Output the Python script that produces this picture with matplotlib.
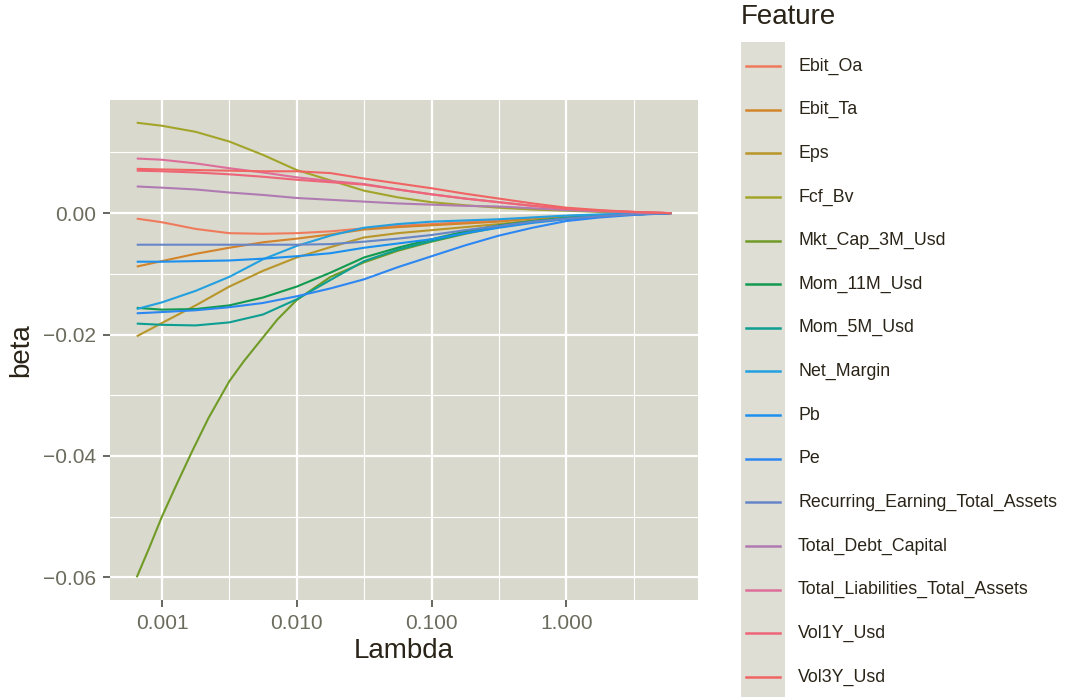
import matplotlib
matplotlib.use("Agg")
import matplotlib.pyplot as plt
from matplotlib.lines import Line2D
from matplotlib.patches import Rectangle
from matplotlib.ticker import FixedLocator, FuncFormatter

plt.rcParams['font.family'] = ['Liberation Sans', 'DejaVu Sans']

# lambda grid
lambdas = [0.00065, 0.001, 0.00178, 0.00316, 0.00562, 0.01, 0.0178, 0.0316,
           0.0562, 0.1, 0.178, 0.316, 0.562, 1.0, 1.78, 3.16, 6.0]
# denser grid for the steep Mkt_Cap path
mkt_lambdas = [0.00065, 0.00081, 0.001, 0.00126, 0.00167, 0.00221, 0.00316, 0.00405,
               0.0052, 0.0072, 0.01, 0.0178, 0.0316, 0.0562, 0.1, 0.178, 0.316,
               0.562, 1.0, 1.78, 3.16, 6.0]

features = ['Ebit_Oa', 'Ebit_Ta', 'Eps', 'Fcf_Bv', 'Mkt_Cap_3M_Usd', 'Mom_11M_Usd',
            'Mom_5M_Usd', 'Net_Margin', 'Pb', 'Pe', 'Recurring_Earning_Total_Assets',
            'Total_Debt_Capital', 'Total_Liabilities_Total_Assets', 'Vol1Y_Usd', 'Vol3Y_Usd']

colors = ['#F07B5C', '#D3842A', '#B8962A', '#A3A52A', '#6F9B26', '#119A50',
          '#0E9E92', '#22A0E0', '#1C90EE', '#2C87F2', '#6786C8',
          '#B07BB2', '#DD6E9A', '#EE6578', '#F06464']

ebit_oa = [-0.0009, -0.0015, -0.0026, -0.0033, -0.0034, -0.0033, -0.0030, -0.0025, -0.0021,
           -0.0018, -0.0015, -0.0012, -0.0008, -0.0005, -0.0003, -0.0001, 0.0]
ebit_ta = [-0.0088, -0.0079, -0.0067, -0.0057, -0.0048, -0.0042, -0.0035, -0.0027, -0.0023,
           -0.0020, -0.0017, -0.0014, -0.0009, -0.0006, -0.0003, -0.0001, 0.0]
eps = [-0.0203, -0.0181, -0.0152, -0.0121, -0.0095, -0.0073, -0.0056, -0.0040, -0.0033,
       -0.0028, -0.0023, -0.0018, -0.0012, -0.0007, -0.0004, -0.0002, 0.0]
fcf_bv = [0.0149, 0.0144, 0.0134, 0.0118, 0.0096, 0.0071, 0.0054, 0.0037, 0.0026,
          0.0018, 0.0013, 0.0009, 0.0006, 0.0004, 0.0002, 0.0001, 0.0]
mkt_cap = [-0.0600, -0.0550, -0.0500, -0.0451, -0.0393, -0.0338, -0.0277, -0.0244,
           -0.0214, -0.0175, -0.0143, -0.0105, -0.0081, -0.0062, -0.0047, -0.0034,
           -0.0023, -0.0015, -0.0009, -0.0005, -0.0002, 0.0]
mom_11m = [-0.0156, -0.0159, -0.0158, -0.0152, -0.0139, -0.0121, -0.0098, -0.0073, -0.0057,
           -0.0043, -0.0030, -0.0020, -0.0013, -0.0008, -0.0004, -0.0002, 0.0]
mom_5m = [-0.0182, -0.0184, -0.0185, -0.0180, -0.0167, -0.0142, -0.0110, -0.0079, -0.0060,
          -0.0046, -0.0033, -0.0022, -0.0014, -0.0008, -0.0004, -0.0002, 0.0]
net_margin = [-0.0158, -0.0147, -0.0128, -0.0105, -0.0076, -0.0054, -0.0037, -0.0024, -0.0018,
              -0.0014, -0.0012, -0.0010, -0.0007, -0.0004, -0.0002, -0.0001, 0.0]
pb = [-0.0080, -0.0080, -0.0079, -0.0078, -0.0075, -0.0071, -0.0066, -0.0057, -0.0050,
      -0.0043, -0.0033, -0.0024, -0.0016, -0.0010, -0.0005, -0.0002, 0.0]
pe = [-0.0165, -0.0163, -0.0160, -0.0155, -0.0148, -0.0137, -0.0124, -0.0109, -0.0089,
      -0.0071, -0.0053, -0.0037, -0.0024, -0.0013, -0.0007, -0.0003, 0.0]
recurring = [-0.0052, -0.0052, -0.0052, -0.0052, -0.0052, -0.0052, -0.0051, -0.0047, -0.0042,
             -0.0036, -0.0028, -0.0021, -0.0014, -0.0009, -0.0005, -0.0002, 0.0]
total_debt = [0.0044, 0.0042, 0.0039, 0.0034, 0.0030, 0.0025, 0.0022, 0.0019, 0.0016,
              0.0014, 0.0012, 0.0011, 0.0008, 0.0005, 0.0003, 0.0001, 0.0]
total_liab = [0.0090, 0.0088, 0.0082, 0.0074, 0.0067, 0.0059, 0.0053, 0.0048, 0.0039,
              0.0031, 0.0024, 0.0018, 0.0012, 0.0007, 0.0004, 0.0002, 0.0]
vol1y = [0.0070, 0.0069, 0.0067, 0.0064, 0.0060, 0.0055, 0.0051, 0.0047, 0.0039,
         0.0031, 0.0024, 0.0018, 0.0012, 0.0007, 0.0004, 0.0002, 0.0]
vol3y = [0.0073, 0.0072, 0.0071, 0.0070, 0.0069, 0.0069, 0.0066, 0.0057, 0.0049,
         0.0041, 0.0032, 0.0024, 0.0016, 0.0009, 0.0005, 0.0002, 0.0]

betas = [ebit_oa, ebit_ta, eps, fcf_bv, mkt_cap, mom_11m, mom_5m, net_margin, pb, pe,
         recurring, total_debt, total_liab, vol1y, vol3y]

panel_bg = '#D9D9CD'
tick_col = '#6B6B5E'
title_col = '#2A2418'

fig = plt.figure(figsize=(10.67, 6.97), dpi=100)
ax = fig.add_axes([110/1067, 1-600/697, 588/1067, 500/697])
ax.set_facecolor(panel_bg)

for name, col, b in zip(features, colors, betas):
    xs = mkt_lambdas if name == 'Mkt_Cap_3M_Usd' else lambdas
    ax.plot(xs, b, color=col, lw=1.5, label=name, solid_capstyle='butt')

ax.set_xscale('log')
ax.margins(x=0.05, y=0.05)

ax.xaxis.set_major_locator(FixedLocator([0.001, 0.01, 0.1, 1.0]))
ax.xaxis.set_minor_locator(FixedLocator([0.000316, 0.00316, 0.0316, 0.316, 3.16]))
ax.xaxis.set_major_formatter(FuncFormatter(lambda v, p: '%.3f' % v))
ax.xaxis.set_minor_formatter(FuncFormatter(lambda v, p: ''))
ax.yaxis.set_major_locator(FixedLocator([0.0, -0.02, -0.04, -0.06]))
ax.yaxis.set_minor_locator(FixedLocator([0.01, -0.01, -0.03, -0.05]))
ax.yaxis.set_major_formatter(FuncFormatter(lambda v, p: ('%.2f' % v).replace('-', '\u2212')))

ax.grid(which='major', color='white', lw=1.6)
ax.grid(which='minor', color='white', lw=0.8)
ax.set_axisbelow(True)
for s in ax.spines.values():
    s.set_visible(False)

ax.tick_params(which='major', length=5, width=1.2, color='#4D4D45', labelsize=15,
               labelcolor=tick_col, pad=5)
ax.tick_params(which='minor', length=0)

ax.set_xlabel('Lambda', fontsize=20, color=title_col, labelpad=4)
ax.set_ylabel('beta', fontsize=20, color=title_col, labelpad=6)

# legend drawn ggplot-style
fig.text(741/1067, 1-17/697, 'Feature', fontsize=20, color=title_col, va='center', ha='left')
fig.add_artist(Rectangle((741/1067, 0), 44/1067, 1-42/697, transform=fig.transFigure,
                         facecolor='#DEDED5', edgecolor='none'))
for i, (name, col) in enumerate(zip(features, colors)):
    yy = 1 - (66 + i*43.64)/697
    fig.add_artist(Line2D([746/1067, 780/1067], [yy, yy], transform=fig.transFigure,
                          color=col, lw=1.8))
    fig.text(798/1067, yy, name, fontsize=12.8, color=title_col, va='center', ha='left')

fig.savefig('out.png', dpi=100)
